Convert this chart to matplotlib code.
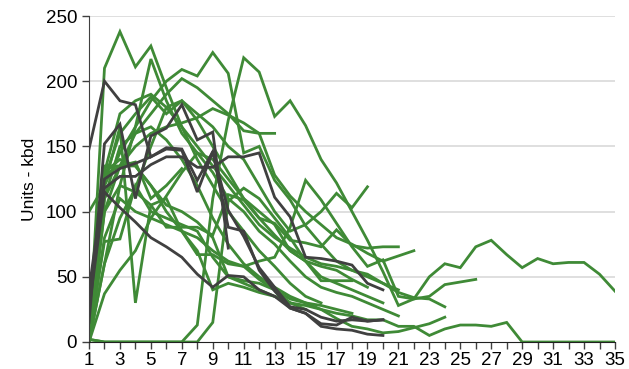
import numpy as np
import matplotlib
matplotlib.use("Agg")
from matplotlib import pyplot as plt

plt.rcParams['font.family'] = ['Liberation Sans', 'DejaVu Sans']

GREEN = "#3f8a36"
DARK = "#404040"

# Green series (one value per period, starting at period 1)
green_series = [
    [0, 210, 238, 211, 227, 195, 165, 140, 120, 100, 85, 70, 58, 45, 35, 30],
    [0, 60, 120, 165, 217, 185, 160, 145, 130, 110, 100, 85, 75, 62, 50, 42, 38, 35, 30, 25, 20],
    [100, 120, 145, 165, 185, 200, 209, 204, 222, 206, 145, 150, 124, 109, 89, 75, 62, 55, 50, 45, 38, 34, 33, 27],
    [10, 100, 135, 160, 175, 190, 202, 195, 185, 175, 162, 160, 128, 112, 100, 90, 80, 75, 68, 62, 66, 70],
    [5, 110, 135, 150, 160, 165, 168, 172, 179, 174, 168, 160, 160],
    [2, 0, 0, 0, 0, 0, 0, 13, 110, 170, 218, 207, 173, 185, 166, 140, 122, 100, 78, 54, 28, 33, 50, 60, 57,
     73, 78, 67, 57, 64, 60, 61, 61, 52, 39],
    [2, 0, 0, 0, 0, 0, 0, 0, 15, 108, 118, 110, 95, 80, 62, 50, 45, 40, 35, 30],
    [20, 128, 135, 138, 110, 120, 133],
    [5, 120, 165, 30, 105, 110, 85, 80, 70, 62, 58, 48, 40, 30, 25],
    [0, 37, 55, 70, 95, 112, 130, 145, 140, 125, 110, 100, 90, 70, 62, 47, 47, 47],
    [5, 77, 79, 120, 100, 95, 90, 85, 65, 50, 47, 45, 40, 33, 30, 28, 25, 22],
    [0, 100, 120, 115, 105, 88, 88, 88, 82, 113, 109, 95, 91, 78, 76, 73, 86, 74, 72, 73, 73],
    [0, 130, 140, 135, 120, 100, 85, 67, 67, 60, 58, 62, 65, 88, 124, 109, 91, 73, 58, 63, 35, 33, 35, 44, 46, 48],
    [0, 60, 95, 118, 150, 180, 185, 175, 165, 150, 140, 120, 100, 85, 90, 100, 114, 103, 119],
    [0, 130, 175, 185, 190, 180, 165, 150, 135, 120, 105, 90, 80, 72, 65, 60, 58, 55, 52, 45, 40],
    [30, 135, 135, 135, 120, 105, 100, 92, 80, 50, 45, 40, 35, 30, 28, 25, 22, 20, 17, 17, 12, 12, 5, 10, 13,
     13, 12, 15, 0, 0, 0, 0, 0, 0, 0],
    [0, 110, 150, 160, 165, 155, 140, 120, 95, 75, 60, 50, 42, 35, 30, 25, 18, 12, 10, 7, 8, 11, 14, 19],
    [0, 80, 110, 100, 95, 90, 85, 70, 40, 45, 42, 38, 35, 30],
    [0, 125, 160, 175, 188, 175, 185, 170, 150, 130, 110, 95, 82, 70, 62, 58, 55, 48, 42],
]

# Dark series
dark_series = [
    [148, 200, 185, 182, 142, 149, 148, 124, 146, 101, 81, 57, 42, 27, 25, 19, 16, 17, 16, 17],
    [15, 152, 167, 110, 158, 164, 182, 155, 161, 72],
    [30, 118, 127, 127, 136, 142, 142, 134, 134, 142, 142, 145, 111, 96, 65, 64, 62, 59, 45, 40],
    [25, 115, 103, 92, 80, 73, 65, 52, 42, 51, 50, 40, 35, 26, 22, 14, 13, 19, 16, 17],
    [40, 125, 133, 137, 142, 148, 147, 115, 146, 88, 85, 55, 39, 26, 22, 12, 10, 9, 6, 5],
]

fig = plt.figure(figsize=(6.29, 3.69), dpi=100)
ax = fig.add_axes([0.1415, 0.0732, 0.8362, 0.8834])

for s in green_series:
    ax.plot(np.arange(1, len(s) + 1), s, color=GREEN, lw=2.0, solid_joinstyle='miter')
for s in dark_series:
    ax.plot(np.arange(1, len(s) + 1), s, color=DARK, lw=2.0, solid_joinstyle='miter')

ax.set_xlim(1, 35)
ax.set_ylim(0, 250)
ax.set_yticks(np.arange(0, 251, 50))
ax.set_xticks(np.arange(1, 36))
ax.set_xticklabels([str(i) if i % 2 == 1 else '' for i in range(1, 36)])
ax.tick_params(axis='both', labelsize=13.5, length=5, width=1, color='#404040', direction='out')
ax.tick_params(axis='x', pad=2)
ax.set_ylabel("Units - kbd", fontsize=12.5, labelpad=6)

for y in range(50, 251, 50):
    ax.axhline(y, color='#d9d9d9', lw=1.2, zorder=0)

ax.spines['top'].set_visible(False)
ax.spines['right'].set_visible(False)
ax.spines['left'].set_color('#404040')
ax.spines['bottom'].set_color('#202020')

fig.savefig("out.png", dpi=100)
